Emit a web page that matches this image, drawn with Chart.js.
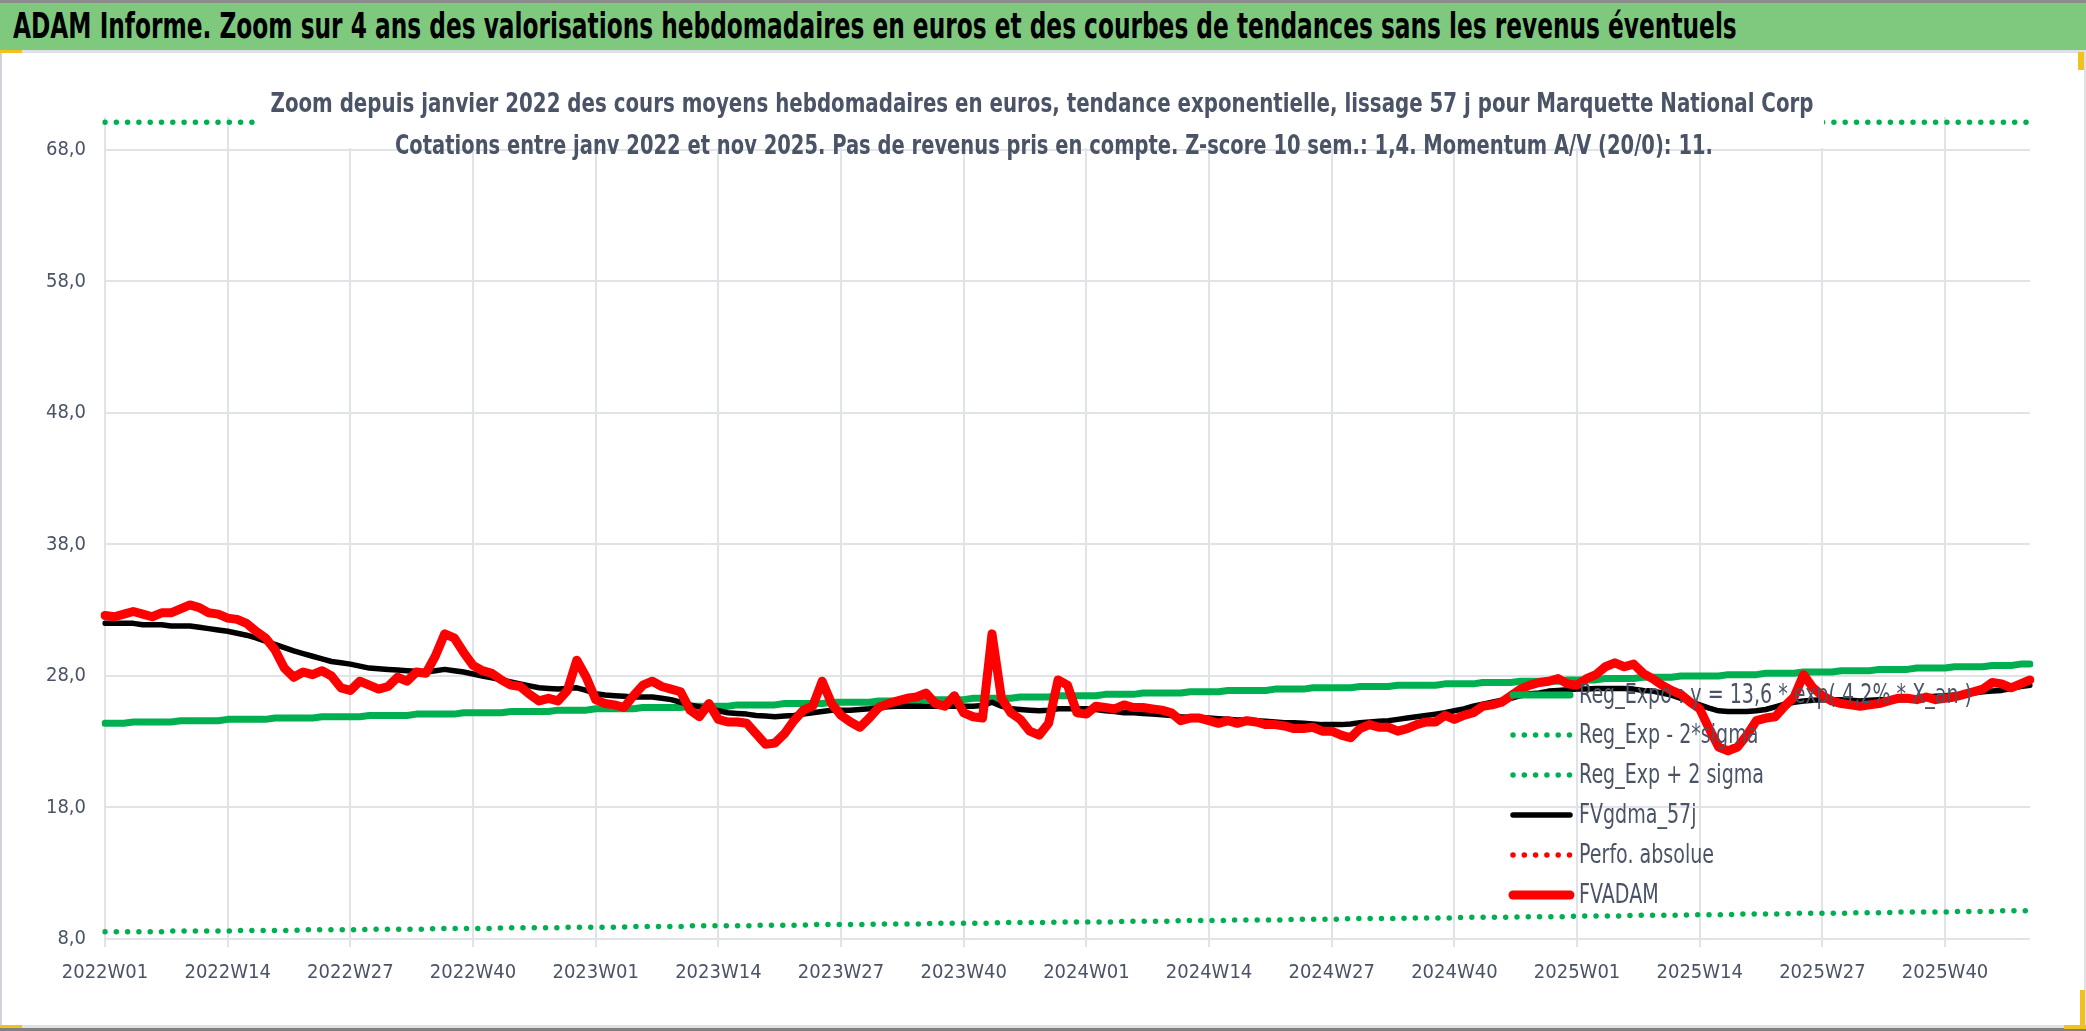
<!DOCTYPE html>
<html lang="fr">
<head>
<meta charset="utf-8">
<title>ADAM Informe - Marquette National Corp</title>
<script src="https://cdn.jsdelivr.net/npm/chart.js@4.4.1/dist/chart.umd.min.js"></script>
<style>
  html, body { margin: 0; padding: 0; background: #fff; }
  body { width: 2086px; height: 1031px; position: relative; overflow: hidden; font-family: 'DejaVu Sans', sans-serif; }
  #topline { position: absolute; left: 0; top: 0; width: 2086px; height: 3px; background: #8c8c8c; }
  #header { position: absolute; left: 0; top: 3px; width: 2086px; height: 47px; background: #7ec97e; overflow: hidden; }
  #headerText { position: absolute; left: 13px; top: 0; line-height: 47px; color: #000; font-weight: bold;
                font-size: 35px; white-space: nowrap; transform-origin: 0 50%; }
  #sep { position: absolute; left: 0; top: 50px; width: 2086px; height: 3px; background: #dde0e4; }
  #frame { position: absolute; left: 0; top: 53px; width: 2086px; height: 972px;
           border-left: 2px solid #d0d3d8; border-right: 2px solid #dde0e4; box-sizing: border-box; }
  #chartBox { position: absolute; left: 2px; top: 53px; width: 2082px; height: 972px; }
  #bottomLight { position: absolute; left: 0; top: 1025px; width: 2086px; height: 3px; background: #dde0e4; }
  #bottomDark { position: absolute; left: 0; top: 1028px; width: 2086px; height: 3px; background: #808080; }
  .handle { position: absolute; background: #f4c01e; }
</style>
</head>
<body>
<div id="topline"></div>
<div id="header"><span id="headerText">ADAM Informe. Zoom sur 4 ans des valorisations hebdomadaires en euros et des courbes de tendances sans les revenus éventuels</span></div>
<div id="sep"></div>
<div id="frame"></div>
<div id="chartBox"><canvas id="adamChart" width="2082" height="972"></canvas></div>
<div id="bottomLight"></div>
<div id="bottomDark"></div>
<div class="handle" style="left:0;top:50px;width:22px;height:3px;"></div>
<div class="handle" style="left:2078px;top:52px;width:6px;height:18px;"></div>
<div class="handle" style="left:2064px;top:1025px;width:22px;height:4px;"></div>
<div class="handle" style="left:2080px;top:990px;width:5px;height:38px;"></div>
<div class="handle" style="left:0;top:1025px;width:22px;height:3px;"></div>

<script>
// weekly categories
const years = [2022, 2023, 2024, 2025];
const weeksPerYear = [52, 52, 52, 49];
const weeks = [];
years.forEach((y, k) => {
	for (let w = 1; w <= weeksPerYear[k]; w++) weeks.push(y + 'W' + String(w).padStart(2, '0'));
});

const xTickLabels = ['2022W01', '2022W14', '2022W27', '2022W40', '2023W01', '2023W14', '2023W27', '2023W40',
	'2024W01', '2024W14', '2024W27', '2024W40', '2025W01', '2025W14', '2025W27', '2025W40'];
const yTicks = [8, 18, 28, 38, 48, 58, 68];

const titleLines = [
	'Zoom depuis janvier 2022 des cours moyens hebdomadaires en euros, tendance exponentielle, lissage 57 j pour Marquette National Corp',
	'Cotations entre janv 2022 et nov 2025. Pas de revenus pris en compte. Z-score 10 sem.: 1,4. Momentum A/V (20/0): 11.'
];

// Reg_Expo : y = 13,6 * exp( 4,2% * X_an )
const regExpo = [
	24.4,24.4,24.4,24.5,24.5,24.5,24.5,24.5,24.6,24.6,24.6,24.6,24.6,
	24.7,24.7,24.7,24.7,24.7,24.8,24.8,24.8,24.8,24.8,24.9,24.9,24.9,
	24.9,24.9,25.0,25.0,25.0,25.0,25.0,25.1,25.1,25.1,25.1,25.1,25.2,
	25.2,25.2,25.2,25.2,25.3,25.3,25.3,25.3,25.3,25.4,25.4,25.4,25.4,
	25.5,25.5,25.5,25.5,25.5,25.6,25.6,25.6,25.6,25.6,25.7,25.7,25.7,
	25.7,25.7,25.8,25.8,25.8,25.8,25.8,25.9,25.9,25.9,25.9,25.9,26.0,
	26.0,26.0,26.0,26.0,26.1,26.1,26.1,26.1,26.1,26.2,26.2,26.2,26.2,
	26.2,26.3,26.3,26.3,26.3,26.3,26.4,26.4,26.4,26.4,26.5,26.5,26.5,
	26.5,26.5,26.6,26.6,26.6,26.6,26.7,26.7,26.7,26.7,26.7,26.8,26.8,
	26.8,26.8,26.9,26.9,26.9,26.9,26.9,27.0,27.0,27.0,27.0,27.1,27.1,
	27.1,27.1,27.1,27.2,27.2,27.2,27.2,27.3,27.3,27.3,27.3,27.3,27.4,
	27.4,27.4,27.4,27.5,27.5,27.5,27.5,27.6,27.6,27.6,27.6,27.6,27.7,
	27.7,27.7,27.7,27.8,27.8,27.8,27.8,27.9,27.9,27.9,27.9,28.0,28.0,
	28.0,28.0,28.0,28.1,28.1,28.1,28.1,28.2,28.2,28.2,28.2,28.3,28.3,
	28.3,28.3,28.4,28.4,28.4,28.4,28.5,28.5,28.5,28.5,28.6,28.6,28.6,
	28.6,28.7,28.7,28.7,28.7,28.8,28.8,28.8,28.9,28.9
];

// Reg_Exp - 2*sigma
const regMinus2s = [
	8.55,8.55,8.55,8.55,8.55,8.55,8.55,8.6,8.6,8.6,8.6,8.6,8.6,
	8.6,8.65,8.65,8.65,8.65,8.65,8.65,8.65,8.7,8.7,8.7,8.7,8.7,
	8.7,8.7,8.75,8.75,8.75,8.75,8.75,8.75,8.75,8.8,8.8,8.8,8.8,
	8.8,8.8,8.8,8.85,8.85,8.85,8.85,8.85,8.85,8.85,8.9,8.9,8.9,
	8.9,8.9,8.9,8.9,8.95,8.95,8.95,8.95,8.95,8.95,9.0,9.0,9.0,
	9.0,9.0,9.0,9.0,9.05,9.05,9.05,9.05,9.05,9.05,9.1,9.1,9.1,
	9.1,9.1,9.1,9.1,9.15,9.15,9.15,9.15,9.15,9.15,9.2,9.2,9.2,
	9.2,9.2,9.2,9.2,9.25,9.25,9.25,9.25,9.25,9.25,9.3,9.3,9.3,
	9.3,9.3,9.3,9.3,9.35,9.35,9.35,9.35,9.35,9.35,9.4,9.4,9.4,
	9.4,9.4,9.4,9.45,9.45,9.45,9.45,9.45,9.45,9.5,9.5,9.5,9.5,
	9.5,9.5,9.55,9.55,9.55,9.55,9.55,9.55,9.6,9.6,9.6,9.6,9.6,
	9.6,9.65,9.65,9.65,9.65,9.65,9.65,9.7,9.7,9.7,9.7,9.7,9.7,
	9.75,9.75,9.75,9.75,9.75,9.75,9.8,9.8,9.8,9.8,9.8,9.8,9.85,
	9.85,9.85,9.85,9.85,9.9,9.9,9.9,9.9,9.9,9.9,9.95,9.95,9.95,
	9.95,9.95,9.95,10.0,10.0,10.0,10.0,10.0,10.05,10.05,10.05,10.05,10.05,
	10.05,10.1,10.1,10.1,10.1,10.1,10.15,10.15,10.15,10.15
];

// Reg_Exp + 2 sigma (sits on the top edge of the plot)
const regPlus2s = [
	70.1,70.1,70.1,70.1,70.1,70.1,70.1,70.1,70.1,70.1,70.1,70.1,70.1,
	70.1,70.1,70.1,70.1,70.1,70.1,70.1,70.1,70.1,70.1,70.1,70.1,70.1,
	70.1,70.1,70.1,70.1,70.1,70.1,70.1,70.1,70.1,70.1,70.1,70.1,70.1,
	70.1,70.1,70.1,70.1,70.1,70.1,70.1,70.1,70.1,70.1,70.1,70.1,70.1,
	70.1,70.1,70.1,70.1,70.1,70.1,70.1,70.1,70.1,70.1,70.1,70.1,70.1,
	70.1,70.1,70.1,70.1,70.1,70.1,70.1,70.1,70.1,70.1,70.1,70.1,70.1,
	70.1,70.1,70.1,70.1,70.1,70.1,70.1,70.1,70.1,70.1,70.1,70.1,70.1,
	70.1,70.1,70.1,70.1,70.1,70.1,70.1,70.1,70.1,70.1,70.1,70.1,70.1,
	70.1,70.1,70.1,70.1,70.1,70.1,70.1,70.1,70.1,70.1,70.1,70.1,70.1,
	70.1,70.1,70.1,70.1,70.1,70.1,70.1,70.1,70.1,70.1,70.1,70.1,70.1,
	70.1,70.1,70.1,70.1,70.1,70.1,70.1,70.1,70.1,70.1,70.1,70.1,70.1,
	70.1,70.1,70.1,70.1,70.1,70.1,70.1,70.1,70.1,70.1,70.1,70.1,70.1,
	70.1,70.1,70.1,70.1,70.1,70.1,70.1,70.1,70.1,70.1,70.1,70.1,70.1,
	70.1,70.1,70.1,70.1,70.1,70.1,70.1,70.1,70.1,70.1,70.1,70.1,70.1,
	70.1,70.1,70.1,70.1,70.1,70.1,70.1,70.1,70.1,70.1,70.1,70.1,70.1,
	70.1,70.1,70.1,70.1,70.1,70.1,70.1,70.1,70.1,70.1
];

// FVgdma_57j (moving average)
const fvGdma57 = [
	32.0,32.0,32.0,32.0,31.9,31.9,31.9,31.8,31.8,31.8,31.7,31.6,31.5,
	31.4,31.25,31.1,30.9,30.65,30.4,30.15,29.9,29.7,29.5,29.3,29.1,29.0,
	28.9,28.75,28.6,28.55,28.5,28.45,28.4,28.35,28.3,28.4,28.5,28.4,28.3,
	28.15,28.0,27.85,27.7,27.55,27.4,27.25,27.1,27.05,27.0,27.05,27.1,26.9,
	26.65,26.55,26.5,26.45,26.4,26.4,26.4,26.3,26.2,26.0,25.8,25.65,25.5,
	25.35,25.2,25.15,25.1,25.0,24.95,24.9,24.95,25.0,25.1,25.2,25.3,25.4,
	25.4,25.4,25.45,25.5,25.6,25.65,25.7,25.7,25.7,25.7,25.7,25.7,25.7,
	25.7,25.7,25.75,26.0,25.7,25.5,25.45,25.4,25.35,25.4,25.5,25.5,25.5,
	25.5,25.45,25.35,25.3,25.2,25.2,25.15,25.1,25.05,25.0,24.9,24.85,24.8,
	24.8,24.75,24.7,24.65,24.65,24.6,24.55,24.5,24.45,24.45,24.4,24.35,24.3,
	24.3,24.3,24.35,24.45,24.5,24.55,24.6,24.7,24.8,24.9,25.0,25.1,25.2,
	25.35,25.5,25.7,25.85,26.0,26.15,26.3,26.5,26.65,26.7,26.85,26.9,26.95,
	27.0,27.0,27.05,27.05,27.05,27.05,27.0,26.9,26.85,26.7,26.55,26.3,26.05,
	25.8,25.55,25.35,25.3,25.3,25.3,25.35,25.45,25.65,25.85,26.0,26.1,26.15,
	26.2,26.2,26.2,26.15,26.1,26.15,26.2,26.2,26.2,26.2,26.3,26.4,26.45,
	26.5,26.55,26.6,26.7,26.8,26.85,26.9,27.05,27.2,27.3
];

// Perfo. absolue (legend entry only, no visible points)
const perfoAbsolue = [];

// FVADAM weekly average price
const fvAdam = [
	32.6,32.5,32.7,32.9,32.7,32.5,32.8,32.8,33.1,33.4,33.2,32.8,32.7,
	32.4,32.3,32.0,31.4,30.9,30.0,28.6,27.9,28.3,28.1,28.4,28.0,27.1,
	26.9,27.6,27.3,27.0,27.2,27.9,27.6,28.3,28.2,29.5,31.2,30.9,29.8,
	28.8,28.4,28.2,27.7,27.3,27.2,26.6,26.1,26.3,26.1,26.9,29.2,27.9,
	26.2,25.9,25.8,25.6,26.5,27.3,27.6,27.2,27.0,26.8,25.4,24.9,25.9,
	24.7,24.5,24.5,24.4,23.6,22.8,22.9,23.6,24.6,25.4,25.7,27.6,25.9,
	25.0,24.5,24.1,24.8,25.6,25.9,26.1,26.3,26.4,26.7,25.9,25.7,26.5,
	25.2,24.9,24.8,31.2,26.3,25.2,24.7,23.8,23.5,24.4,27.7,27.3,25.2,
	25.1,25.7,25.6,25.5,25.8,25.6,25.6,25.5,25.4,25.2,24.6,24.8,24.8,
	24.6,24.4,24.6,24.4,24.6,24.5,24.3,24.3,24.2,24.0,24.0,24.1,23.8,
	23.8,23.5,23.3,24.0,24.3,24.1,24.1,23.8,24.0,24.3,24.5,24.5,25.0,
	24.7,25.0,25.2,25.7,25.8,26.0,26.5,27.0,27.3,27.5,27.6,27.8,27.4,
	27.3,27.8,28.1,28.7,29.0,28.7,28.9,28.2,27.8,27.3,26.9,26.6,26.0,
	25.5,24.0,22.6,22.3,22.6,23.5,24.6,24.8,24.9,25.7,26.4,28.1,27.1,
	26.5,26.1,25.9,25.8,25.7,25.8,25.9,26.1,26.3,26.3,26.2,26.4,26.2,
	26.3,26.4,26.6,26.8,27.0,27.5,27.4,27.1,27.4,27.7
];

const FONT = "'DejaVu Sans', sans-serif";
const TICK_FONT = "'DejaVu Sans Condensed', 'DejaVu Sans', sans-serif";
const TEXT_COLOR = '#4a5466';
const GRID_COLOR = '#e0e3e8';
const DOTS = [0, 11.3];

// squeeze the header into the width of the original narrow font
const headerText = document.getElementById('headerText');
headerText.style.transform = 'scaleX(' + (1724 / headerText.offsetWidth) + ')';

// draw text squeezed horizontally to a given width
function fitText(ctx, text, x, y, width) {
	const natural = ctx.measureText(text).width;
	ctx.save();
	ctx.translate(x, y);
	ctx.scale(width / natural, 1);
	ctx.fillText(text, 0, 0);
	ctx.restore();
}

// title block drawn over the top of the plot, then the legend inside the plot
const overlayPlugin = {
	id: 'overlay',
	afterDatasetsDraw(chart) {
		const ctx = chart.ctx;
		ctx.save();
		ctx.fillStyle = '#fff';
		ctx.fillRect(256, 20, 1566, 75);
		ctx.fillStyle = TEXT_COLOR;
		ctx.textAlign = 'center';
		ctx.textBaseline = 'middle';
		ctx.font = 'bold 27px ' + FONT;
		fitText(ctx, titleLines[0], 1040, 52, 1543);
		fitText(ctx, titleLines[1], 1052, 94, 1318);

		// legend
		ctx.textAlign = 'left';
		ctx.font = '26px ' + FONT;
		const squeeze = 185 / ctx.measureText('Reg_Exp + 2 sigma').width;
		chart.data.datasets.forEach((ds, k) => {
			const y = 642 + k * 40;
			ctx.beginPath();
			ctx.strokeStyle = ds.borderColor;
			ctx.lineWidth = ds.borderWidth;
			ctx.lineCap = 'round';
			ctx.setLineDash(ds.borderDash || []);
			ctx.moveTo(1511, y);
			ctx.lineTo(1568, y);
			ctx.stroke();
			ctx.setLineDash([]);
			ctx.fillStyle = TEXT_COLOR;
			ctx.save();
			ctx.translate(1577, y + 1);
			ctx.scale(squeeze, 1);
			ctx.fillText(ds.label, 0, 0);
			ctx.restore();
		});
		ctx.restore();
	}
};

function lineSet(label, data, color, width, dash, order) {
	return {
		label: label,
		data: data,
		borderColor: color,
		backgroundColor: color,
		borderWidth: width,
		borderDash: dash,
		borderCapStyle: 'round',
		borderJoinStyle: 'round',
		pointRadius: 0,
		fill: false,
		tension: 0,
		order: order
	};
}

const ctx = document.getElementById('adamChart').getContext('2d');
const adamChart = new Chart(ctx, {
	type: 'line',
	data: {
		labels: weeks,
		datasets: [
			lineSet('Reg_Expo : y = 13,6 * exp( 4,2% * X_an )', regExpo, '#00b050', 7, [], 6),
			lineSet('Reg_Exp - 2*sigma', regMinus2s, '#00b050', 5.5, DOTS, 5),
			lineSet('Reg_Exp + 2 sigma', regPlus2s, '#00b050', 5.5, DOTS, 4),
			lineSet('FVgdma_57j', fvGdma57, '#000000', 5.5, [], 3),
			lineSet('Perfo. absolue', perfoAbsolue, '#ff0000', 5.5, DOTS, 2),
			lineSet('FVADAM', fvAdam, '#ff0000', 9, [], 1)
		]
	},
	options: {
		responsive: false,
		animation: false,
		devicePixelRatio: 1,
		layout: { padding: { top: 64, right: 54, left: 0, bottom: 0 } },
		plugins: {
			legend: { display: false },
			title: { display: false },
			tooltip: { enabled: false }
		},
		scales: {
			x: {
				type: 'category',
				offset: false,
				border: { display: false },
				grid: { color: GRID_COLOR, lineWidth: 2, drawTicks: true, tickLength: 8 },
				ticks: {
					autoSkip: false,
					maxRotation: 0,
					padding: 14,
					color: TEXT_COLOR,
					font: { family: TICK_FONT, size: 20 },
					callback: function(value) {
						const label = this.getLabelForValue(value);
						return xTickLabels.includes(label) ? label : null;
					}
				},
				afterFit: function(scale) { scale.height = 86; }
			},
			y: {
				min: 8,
				max: 70.5,
				border: { display: false },
				grid: { color: GRID_COLOR, lineWidth: 2, drawTicks: false },
				afterBuildTicks: function(scale) { scale.ticks = yTicks.map(v => ({ value: v })); },
				ticks: {
					padding: 19,
					color: TEXT_COLOR,
					font: { family: TICK_FONT, size: 20 },
					callback: value => value.toFixed(1).replace('.', ',')
				},
				afterFit: function(scale) { scale.width = 103; }
			}
		}
	},
	plugins: [overlayPlugin]
});
</script>
</body>
</html>
